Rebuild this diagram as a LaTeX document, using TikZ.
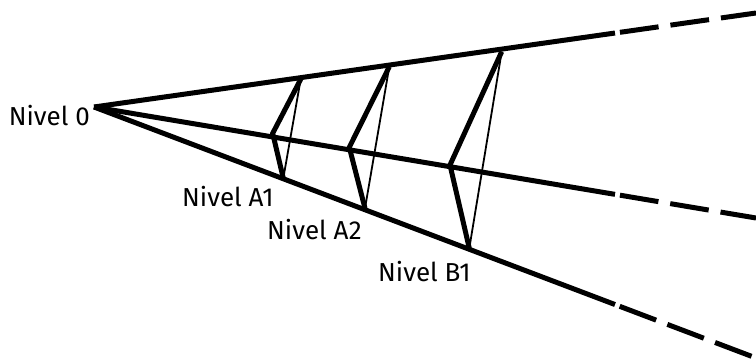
\documentclass[tikz,border=0pt]{standalone}
\usepackage{fontspec}
\setmainfont{Fira Sans}
\usetikzlibrary{calc}
\begin{document}
\begin{tikzpicture}[x=1pt,y=-1pt,
  mainline/.style={line width=5pt},
  dashline/.style={line width=5pt, dash pattern=on 39pt off 12pt, dash phase=46pt},
  strut/.style={line width=5pt},
  tie/.style={line width=1.8pt},
  lbl/.style={font=\fontsize{26}{30}\selectfont, inner sep=0pt}]
\useasboundingbox (0,0) rectangle (756,363);
% apex and far ends
\coordinate (o) at (94,107);
\coordinate (te) at (756,13);
\coordinate (me) at (756,218);
\coordinate (be) at (756,358);
\coordinate (ts) at ($(o)!0.787!(te)$);
\coordinate (ms) at ($(o)!0.787!(me)$);
\coordinate (bs) at ($(o)!0.787!(be)$);
% main lines
\draw[mainline] (o) -- (ts);
\draw[mainline] (o) -- (ms);
\draw[mainline] (o) -- (bs);
\draw[dashline] (ts) -- (te);
\draw[dashline] (ms) -- (me);
\draw[dashline] (bs) -- (be);
% trusses
\coordinate (t1) at (300.7,79.3);
\coordinate (m1) at (272.7,133.3);
\coordinate (b1) at (283.3,178.3);
\coordinate (t2) at (389.3,66.7);
\coordinate (m2) at (349.3,147.3);
\coordinate (b2) at (365,208.3);
\coordinate (t3) at (501.7,51.7);
\coordinate (m3) at (450,165);
\coordinate (b3) at (469.3,248.3);
\draw[strut] (t1) -- (m1) -- (b1);
\draw[tie] (t1) -- (b1);
\draw[strut] (t2) -- (m2) -- (b2);
\draw[tie] (t2) -- (b2);
\draw[strut] (t3) -- (m3) -- (b3);
\draw[tie] (t3) -- (b3);
% labels
\node[lbl, anchor=base east] (l0) at (90,125.5) {Nivel 0};
\node[lbl, anchor=base west] (la1) at (182,206.7) {Nivel A1};
\node[lbl, anchor=base west] (la2) at (267,240) {Nivel A2};
\node[lbl, anchor=base west] (lb1) at (378,282) {Nivel B1};
\end{tikzpicture}
\end{document}
